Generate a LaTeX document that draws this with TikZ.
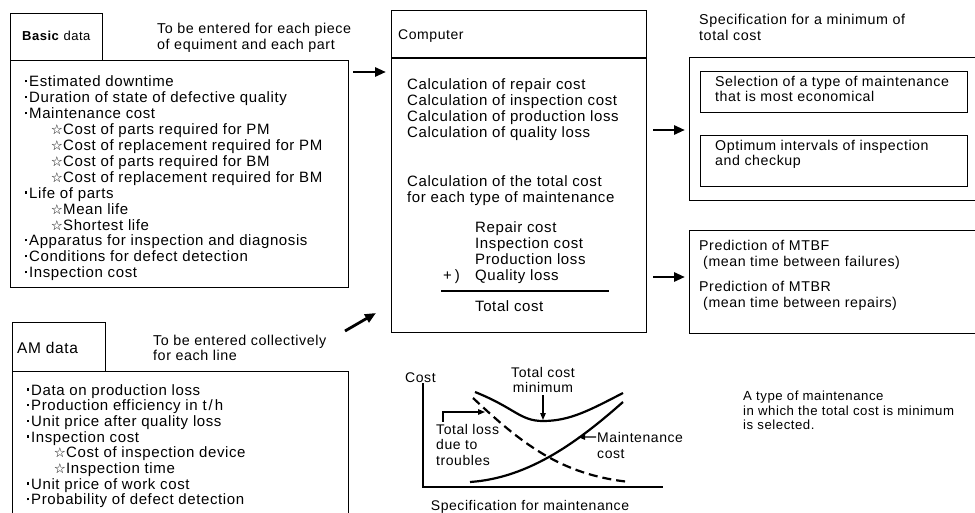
\documentclass[tikz,border=0pt]{standalone}
\usepackage{fontspec}
\setmainfont{Liberation Sans}[LetterSpace=4]
\newfontfamily\symfont{DejaVu Sans}
\usetikzlibrary{arrows.meta}
\newcommand\mybul{\llap{\rule[4.5pt]{2.4pt}{2.4pt}\hspace{2.2pt}}}
\newcommand\mystar{\llap{{\symfont\fontsize{13.5}{13.5}\selectfont ☆}\hspace{0.3pt}}}
\begin{document}
\begin{tikzpicture}[x=1pt,y=-1pt,
  every node/.style={inner sep=0pt, font=\fontsize{15}{16}\selectfont},
  txt/.style={anchor=base west},
  note/.style={font=\fontsize{14.3}{15}\selectfont},
  rbox/.style={font=\fontsize{14.2}{15}\selectfont},
  chart/.style={font=\fontsize{14}{15}\selectfont},
  box/.style={draw, line width=1.3pt, anchor=north west},
  arr/.style={line width=2.8pt, -{Triangle[length=11pt,width=9pt]}},
  thinarr/.style={line width=1.2pt, -{Triangle[length=7pt,width=5.5pt]}},
  curve/.style={line width=2.2pt}]
\useasboundingbox (0,0) rectangle (975,513);
\clip (0,0) rectangle (975,513);

% ---------- Basic data ----------
\node[box, minimum width=92pt, minimum height=47pt] (bhead) at (10,13) {};
\node[box, minimum width=338pt, minimum height=227pt] (basic) at (10,60) {};
\node[txt, font=\fontsize{13}{14}\selectfont] (btitle) at (22,41) {\textbf{Basic} data};
\node[txt, note] (bnote1) at (157,34) {To be entered for each piece};
\node[txt, note] (bnote2) at (157,50) {of equiment and each part};
\foreach \x/\t [count=\i] in {
  29/{\mybul Estimated downtime},
  29/{\mybul Duration of state of defective quality},
  29/{\mybul Maintenance cost},
  63/{\mystar Cost of parts required for PM},
  63/{\mystar Cost of replacement required for PM},
  63/{\mystar Cost of parts required for BM},
  63/{\mystar Cost of replacement required for BM},
  29/{\mybul Life of parts},
  63/{\mystar Mean life},
  63/{\mystar Shortest life},
  29/{\mybul Apparatus for inspection and diagnosis},
  29/{\mybul Conditions for defect detection},
  29/{\mybul Inspection cost}}
  \node[txt] (bl\i) at (\x,{87+15.9*(\i-1)}) {\t};

% ---------- AM data ----------
\node[box, minimum width=93pt, minimum height=49pt] (amhead) at (12,322) {};
\node[box, minimum width=336pt, minimum height=175pt] (am) at (12,371) {};
\node[txt, font=\fontsize{15.5}{16}\selectfont] (amtitle) at (17,353) {AM data};
\node[txt, note] (amnote1) at (153,345) {To be entered collectively};
\node[txt, note] (amnote2) at (153,360) {for each line};
\foreach \x/\t [count=\i] in {
  31/{\mybul Data on production loss},
  31/{\mybul Production efficiency in t\kern2pt/\kern2pt h},
  31/{\mybul Unit price after quality loss},
  31/{\mybul Inspection cost},
  66/{\mystar Cost of inspection device},
  66/{\mystar Inspection time},
  31/{\mybul Unit price of work cost},
  31/{\mybul Probability of defect detection}}
  \node[txt] (al\i) at (\x,{395+15.7*(\i-1)}) {\t};

% ---------- Computer ----------
\node[box, minimum width=255pt, minimum height=322pt] (comp) at (391,10) {};
\draw[line width=1.3pt] (comp.west |- 0,58) -- (comp.east |- 0,58);
\node[txt, font=\fontsize{14}{15}\selectfont] (ctitle) at (398,40) {Computer};
\node[txt] (c1) at (407,90) {Calculation of repair cost};
\node[txt] (c2) at (407,105.7) {Calculation of inspection cost};
\node[txt] (c3) at (407,121.4) {Calculation of production loss};
\node[txt] (c4) at (407,137.1) {Calculation of quality loss};
\node[txt] (c5) at (407,187) {Calculation of the total cost};
\node[txt] (c6) at (407,202.5) {for each type of maintenance};
\node[txt] (s1) at (475,233) {Repair cost};
\node[txt] (s2) at (475,249) {Inspection cost};
\node[txt] (s3) at (475,264.5) {Production loss};
\node[txt] (s4) at (475,280.5) {Quality loss};
\node[txt] (plus) at (443,280.5) {+\kern3pt)};
\draw[line width=1.2pt] (441,291) -- (609,291);
\node[txt] (tot) at (475,311.5) {Total cost};

% ---------- Right side ----------
\node[txt, note] (spec1) at (699,25) {Specification for a minimum of};
\node[txt, note] (spec2) at (699,41) {total cost};
\node[box, minimum width=300pt, minimum height=143pt] (spec) at (689,57) {};
\node[box, minimum width=267pt, minimum height=41pt] (sel) at (700,71) {};
\node[box, minimum width=267pt, minimum height=51pt] (opt) at (700,135) {};
\node[txt, rbox] (sel1) at (715,87) {Selection of a type of maintenance};
\node[txt, rbox] (sel2) at (715,102) {that is most economical};
\node[txt, rbox] (opt1) at (715,151) {Optimum intervals of inspection};
\node[txt, rbox] (opt2) at (715,166) {and checkup};
\node[box, minimum width=300pt, minimum height=103pt] (pred) at (689,230) {};
\node[txt, rbox] (p1) at (699,251) {Prediction of MTBF};
\node[txt, rbox] (p2) at (703,267) {(mean time between failures)};
\node[txt, rbox] (p3) at (699,291) {Prediction of MTBR};
\node[txt, rbox] (p4) at (703,307) {(mean time between repairs)};

% ---------- Arrows ----------
\draw[arr, shorten <=4pt, shorten >=5pt] (basic.east |- 0,72) -- (comp.west |- 0,72);
\coordinate (amtail) at (345,331);
\coordinate (amtip) at (376,313);
\draw[arr] (amtail) -- (amtip);
\draw[arr, shorten <=6pt, shorten >=4pt] (comp.east |- 0,130) -- (spec.west |- 0,130);
\draw[arr, shorten <=6pt, shorten >=4pt] (comp.east |- 0,277) -- (pred.west |- 0,277);

% ---------- Chart ----------
\coordinate (ytop) at (423,383);
\coordinate (orig) at (423,487);
\coordinate (xend) at (663,487);
\draw[line width=1.8pt] (ytop) -- (orig) -- (xend);
\node[txt, chart] (costlbl) at (405,382) {Cost};
\draw[curve] (475,392) .. controls (515,408) and (520,421) .. (543,421)
             .. controls (570,421) and (590,410) .. (623,393);
\draw[curve, dash pattern=on 9pt off 5pt] (473,398) .. controls (520,442) and (560,475) .. (630,482);
\draw[curve] (470,482) .. controls (530,478) and (580,440) .. (623,402);
\node[anchor=base, chart] (tc1) at (543,377.5) {Total cost};
\node[anchor=base, chart] (tc2) at (543,392) {minimum};
\coordinate (tcpt) at (543,420);
\draw[thinarr, shorten <=3pt] (tc2.south) -- (tcpt);
\node[txt, chart] (tl1) at (436,434) {Total loss};
\node[txt, chart] (tl2) at (436,449.5) {due to};
\node[txt, chart] (tl3) at (436,465) {troubles};
\coordinate (dashpt) at (485,412);
\draw[thinarr, shorten <=2pt] (tl1.north -| 443,0) |- (dashpt);
\node[txt, chart] (mc1) at (597,442) {Maintenance};
\node[txt, chart] (mc2) at (597,458) {cost};
\coordinate (mcpt) at (578,437);
\draw[thinarr, shorten <=1pt] (mc1.west) -- (mcpt);
\node[anchor=base, chart] (xlabel) at (530,510) {Specification for maintenance};

% ---------- Note ----------
\node[txt, font=\fontsize{13.2}{14}\selectfont] (n1) at (743,400) {A type of maintenance};
\node[txt, font=\fontsize{13.2}{14}\selectfont] (n2) at (743,415) {in which the total cost is minimum};
\node[txt, font=\fontsize{13.2}{14}\selectfont] (n3) at (743,429) {is selected.};
\end{tikzpicture}
\end{document}
